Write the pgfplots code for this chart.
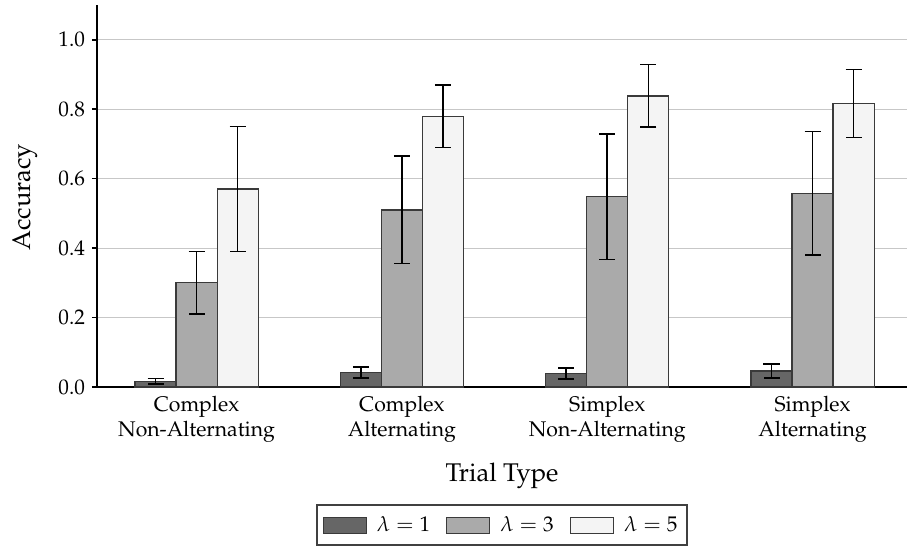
\documentclass[border=0pt]{standalone}
\usepackage[T1]{fontenc}
\usepackage{mathpazo}
\usepackage{pgfplots}
\pgfplotsset{compat=1.18}
\usepackage{pgfplotstable}
\definecolor{cdark}{HTML}{666666}
\definecolor{cmid}{HTML}{AAAAAA}
\definecolor{clight}{HTML}{F4F4F4}
\definecolor{cedge}{HTML}{3A3A3A}
\pgfplotstableread{
x y e
0 0.017 0.008
1 0.042 0.016
2 0.039 0.016
3 0.046 0.020
}\lone
\pgfplotstableread{
x y e
0 0.300 0.090
1 0.510 0.155
2 0.548 0.181
3 0.558 0.178
}\lthree
\pgfplotstableread{
x y e
0 0.570 0.180
1 0.780 0.090
2 0.838 0.090
3 0.817 0.098
}\lfive
\newcommand{\tickfont}{\fontsize{10.6}{12.6}\selectfont}
\newcommand{\labfont}{\fontsize{12.8}{15}\selectfont}
\begin{document}
\begin{tikzpicture}
\begin{axis}[
  scale only axis,
  width=405pt, height=191pt,
  ybar, bar width=0.2,
  xmin=-0.485, xmax=3.46,
  ymin=0, ymax=1.1,
  axis y line=left, axis x line=bottom,
  axis line style={-, line width=1pt, black},
  xtick=data,
  xticklabels={{Complex\\Non-Alternating},{Complex\\Alternating},{Simplex\\Non-Alternating},{Simplex\\Alternating}},
  xticklabel style={align=center, font=\tickfont, yshift=1.5pt},
  yticklabel style={font=\tickfont, /pgf/number format/.cd, fixed, fixed zerofill, precision=1},
  x tick style={draw=none},
  ytick={0,0.2,0.4,0.6,0.8,1.0},
  y tick style={black, line width=0.8pt},
  tick align=outside, major tick length=2.5pt,
  ymajorgrids, grid style={draw=black!22, line width=0.6pt},
  xlabel={Trial Type}, ylabel={Accuracy},
  label style={font=\labfont},
  xlabel style={at={(axis description cs:0.5,-0.232)}, anchor=center},
  ylabel style={at={(axis description cs:-0.089,0.497)}, anchor=center},
  legend columns=3,
  legend style={at={(0.5,-0.362)}, anchor=center, draw=black!75, line width=1pt,
    font=\tickfont, inner xsep=3pt, inner ysep=3.5pt,
    /tikz/every odd column/.append style={column sep=3pt},
    /tikz/every even column/.append style={column sep=6pt}},
  legend image code/.code={\draw[#1, line width=0.6pt] (0pt,-4pt) rectangle (21.5pt,4pt);},
  error bars/error bar style={black, line width=0.75pt},
  error bars/error mark options={rotate=90, mark size=4pt, black, line width=0.75pt},
]
\addplot[fill=cdark, draw=cedge, line width=0.6pt, bar shift=-0.2,
  error bars/.cd, y dir=both, y explicit] table[x=x, y=y, y error=e]{\lone};
\addplot[fill=cmid, draw=cedge, line width=0.6pt, bar shift=0,
  error bars/.cd, y dir=both, y explicit] table[x=x, y=y, y error=e]{\lthree};
\addplot[fill=clight, draw=cedge, line width=0.6pt, bar shift=0.2,
  error bars/.cd, y dir=both, y explicit] table[x=x, y=y, y error=e]{\lfive};
\legend{$\lambda=1$, $\lambda=3$, $\lambda=5$}
\end{axis}
\pgfresetboundingbox
\path (current axis.south west) ++(-48.5pt,-80.5pt) coordinate (bbsw);
\path (current axis.north east) ++(0pt,2.5pt) coordinate (bbne);
\path[use as bounding box] (bbsw) rectangle (bbne);
\end{tikzpicture}
\end{document}
